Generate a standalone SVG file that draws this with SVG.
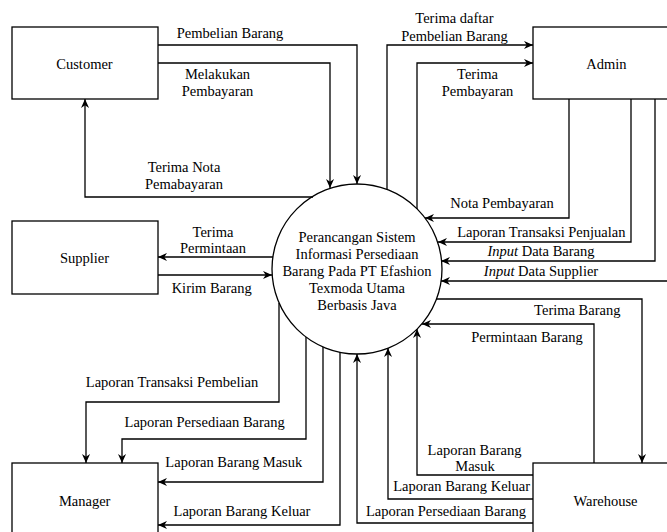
<svg xmlns="http://www.w3.org/2000/svg" width="667" height="532" viewBox="0 0 667 532">
<style>
.box{fill:#fff;stroke:#000;stroke-width:1.3}
.t{font-family:"Liberation Serif","Times New Roman",serif;font-size:14.5px;fill:#000;text-anchor:middle}
.e{fill:none;stroke:#000;stroke-width:1.3}
</style>
<defs>
<marker id="ar" viewBox="0 0 10 10" refX="10" refY="5" markerWidth="9" markerHeight="9" markerUnits="userSpaceOnUse" orient="auto">
<path d="M0,0.5 L10,5 L0,9.5 L3,5 z" fill="#000"/>
</marker>
</defs>
<rect width="667" height="532" fill="#fff"/>
<g id="connectors">
<path class="e" marker-end="url(#ar)" d="M158,45 H357 V184"/>
<path class="e" marker-end="url(#ar)" d="M158,63 H330 V188"/>
<path class="e" marker-end="url(#ar)" d="M313,197 H85 V99"/>
<path class="e" marker-end="url(#ar)" d="M387,189 V45 H533"/>
<path class="e" marker-end="url(#ar)" d="M417,209 V63 H533"/>
<path class="e" marker-end="url(#ar)" d="M569,99 V218 H425"/>
<path class="e" marker-end="url(#ar)" d="M631,99 V242 H438"/>
<path class="e" marker-end="url(#ar)" d="M655,99 V261 H441"/>
<path class="e" marker-end="url(#ar)" d="M668,281 H441"/>
<path class="e" marker-end="url(#ar)" d="M436,299 H642 V463"/>
<path class="e" marker-end="url(#ar)" d="M594,463 V324 H422"/>
<path class="e" marker-end="url(#ar)" d="M533,475 H417 V329"/>
<path class="e" marker-end="url(#ar)" d="M533,499 H388 V348"/>
<path class="e" marker-end="url(#ar)" d="M533,523 H357 V354"/>
<path class="e" marker-end="url(#ar)" d="M279,303 V402 H86 V463"/>
<path class="e" marker-end="url(#ar)" d="M306,337 V439 H122 V463"/>
<path class="e" marker-end="url(#ar)" d="M323,347 V482 H158"/>
<path class="e" marker-end="url(#ar)" d="M340,352 V525 H158"/>
<path class="e" marker-end="url(#ar)" d="M273,257 H158"/>
<path class="e" marker-end="url(#ar)" d="M158,275 H272"/>
<g class="t">
<text x="230" y="38">Pembelian Barang</text>
<text x="217.5" y="79">Melakukan</text>
<text x="217.5" y="95.7">Pembayaran</text>
<text x="184" y="171.7">Terima Nota</text>
<text x="184" y="189">Pemabayaran</text>
<text x="454.5" y="23.3">Terima daftar</text>
<text x="454.5" y="40.7">Pembelian Barang</text>
<text x="477.5" y="79">Terima</text>
<text x="477.5" y="95.7">Pembayaran</text>
<text x="502" y="208.2">Nota Pembayaran</text>
<text x="541.3" y="236.7">Laporan Transaksi Penjualan</text>
<text x="541" y="256"><tspan font-style="italic">Input</tspan> Data Barang</text>
<text x="541" y="276"><tspan font-style="italic">Input</tspan> Data Supplier</text>
<text x="577.3" y="315">Terima Barang</text>
<text x="527" y="341.7">Permintaan Barang</text>
<text x="213" y="237.3">Terima</text>
<text x="213" y="253.3">Permintaan</text>
<text x="211.7" y="293.3">Kirim Barang</text>
<text x="172" y="387.3">Laporan Transaksi Pembelian</text>
<text x="204.7" y="426.7">Laporan Persediaan Barang</text>
<text x="233.8" y="466.7">Laporan Barang Masuk</text>
<text x="242" y="515.7">Laporan Barang Keluar</text>
<text x="474.5" y="455">Laporan Barang</text>
<text x="475" y="471">Masuk</text>
<text x="461.7" y="490.7">Laporan Barang Keluar</text>
<text x="446" y="515.7">Laporan Persediaan Barang</text>
</g>
</g>
<g id="customer"><rect class="box" x="12" y="27" width="146" height="72"/><text class="t" x="84.5" y="69">Customer</text></g>
<g id="admin"><rect class="box" x="533" y="27" width="146" height="72"/><text class="t" x="606.3" y="69">Admin</text></g>
<g id="supplier"><rect class="box" x="12" y="221" width="146" height="73"/><text class="t" x="84.5" y="263.3">Supplier</text></g>
<g id="manager"><rect class="box" x="12" y="463" width="146" height="72"/><text class="t" x="84.7" y="506">Manager</text></g>
<g id="warehouse"><rect class="box" x="533" y="463" width="146" height="72"/><text class="t" x="605.5" y="505.7">Warehouse</text></g>
<g id="process">
<circle class="box" cx="357" cy="269" r="85" fill="none" style="fill:none"/>
<text class="t" x="357" y="241.5">Perancangan Sistem</text>
<text class="t" x="357" y="258.5">Informasi Persediaan</text>
<text class="t" x="357" y="275.5">Barang Pada PT Efashion</text>
<text class="t" x="357" y="292.5">Texmoda Utama</text>
<text class="t" x="357" y="309.5">Berbasis Java</text>
</g>
</svg>
